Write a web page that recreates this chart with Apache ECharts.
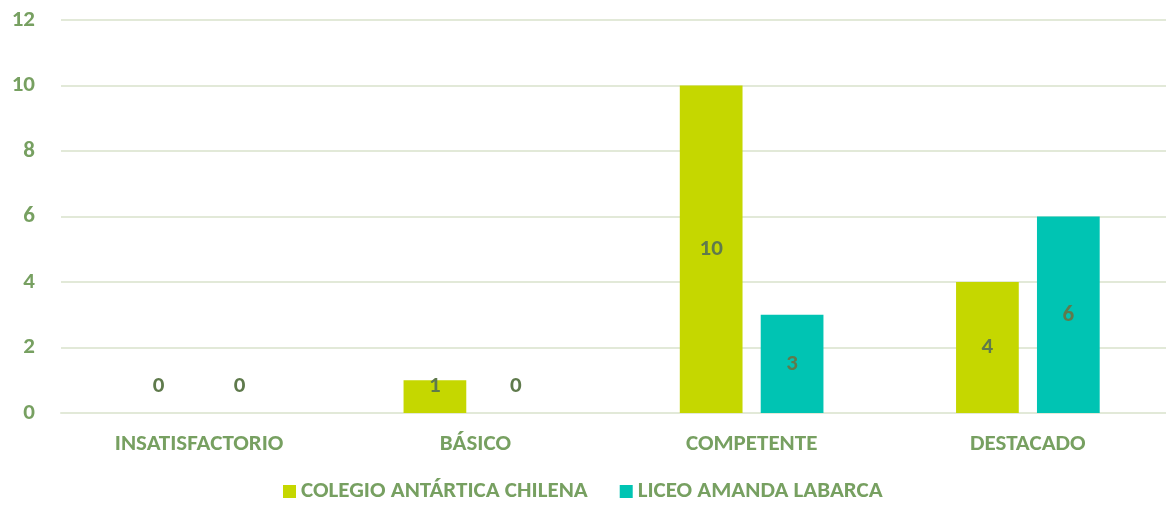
<!DOCTYPE html>
<html>
<head>
<meta charset="utf-8">
<script src="https://cdn.jsdelivr.net/npm/echarts@6/dist/echarts.min.js"></script>
<style>
  html, body { margin: 0; padding: 0; background: #fff; }
  #chart { width: 1166px; height: 508px; }
</style>
</head>
<body>
<div id="chart"></div>
<script>
const categories = ["INSATISFACTORIO", "BÁSICO", "COMPETENTE", "DESTACADO"];
const colegioValues = [0, 1, 10, 4];
const liceoValues = [0, 0, 3, 6];
const seriesNames = ["COLEGIO ANTÁRTICA CHILENA", "LICEO AMANDA LABARCA"];

const fontFamily = 'Carlito, Lato, "Open Sans", sans-serif';
const axisColor = "#77A061";
const labelColor = "#5F7A4C";

// small bars get their label lifted off the baseline, like the original
function toData(values) {
  return values.map((v) => {
    if (v <= 1) {
      return { value: v, label: { position: "insideBottom", distance: 15 } };
    }
    return v;
  });
}

const chart = echarts.init(document.getElementById("chart"));

const barLabel = {
  show: true,
  position: "inside",
  color: labelColor,
  fontFamily: fontFamily,
  fontWeight: "bold",
  fontSize: 23,
};

chart.setOption({
  animation: false,
  grid: { left: 61, right: 0, top: 20, bottom: 95 },
  legend: {
    bottom: 0,
    left: 278,
    icon: "rect",
    itemWidth: 13,
    itemHeight: 13,
    itemGap: 32,
    textStyle: {
      color: axisColor,
      fontFamily: fontFamily,
      fontWeight: "bold",
      fontSize: 23,
    },
  },
  xAxis: {
    type: "category",
    data: categories,
    axisLine: { lineStyle: { color: "#E2E9D8", width: 2 } },
    axisTick: { show: false },
    axisLabel: {
      color: axisColor,
      fontFamily: fontFamily,
      fontWeight: "bold",
      fontSize: 23,
      margin: 20,
    },
  },
  yAxis: {
    type: "value",
    min: 0,
    max: 12,
    interval: 2,
    axisLine: { show: false },
    axisTick: { show: false },
    splitLine: { lineStyle: { color: "#E2E9D8", width: 2 } },
    axisLabel: {
      color: axisColor,
      fontFamily: fontFamily,
      fontWeight: "bold",
      fontSize: 23,
      margin: 26,
    },
  },
  series: [
    {
      name: seriesNames[0],
      type: "bar",
      data: toData(colegioValues),
      barGap: "29%",
      barCategoryGap: "48%",
      itemStyle: { color: "#C5D700" },
      label: barLabel,
    },
    {
      name: seriesNames[1],
      type: "bar",
      data: toData(liceoValues),
      itemStyle: { color: "#00C4B3" },
      label: barLabel,
    },
  ],
});
</script>
</body>
</html>
